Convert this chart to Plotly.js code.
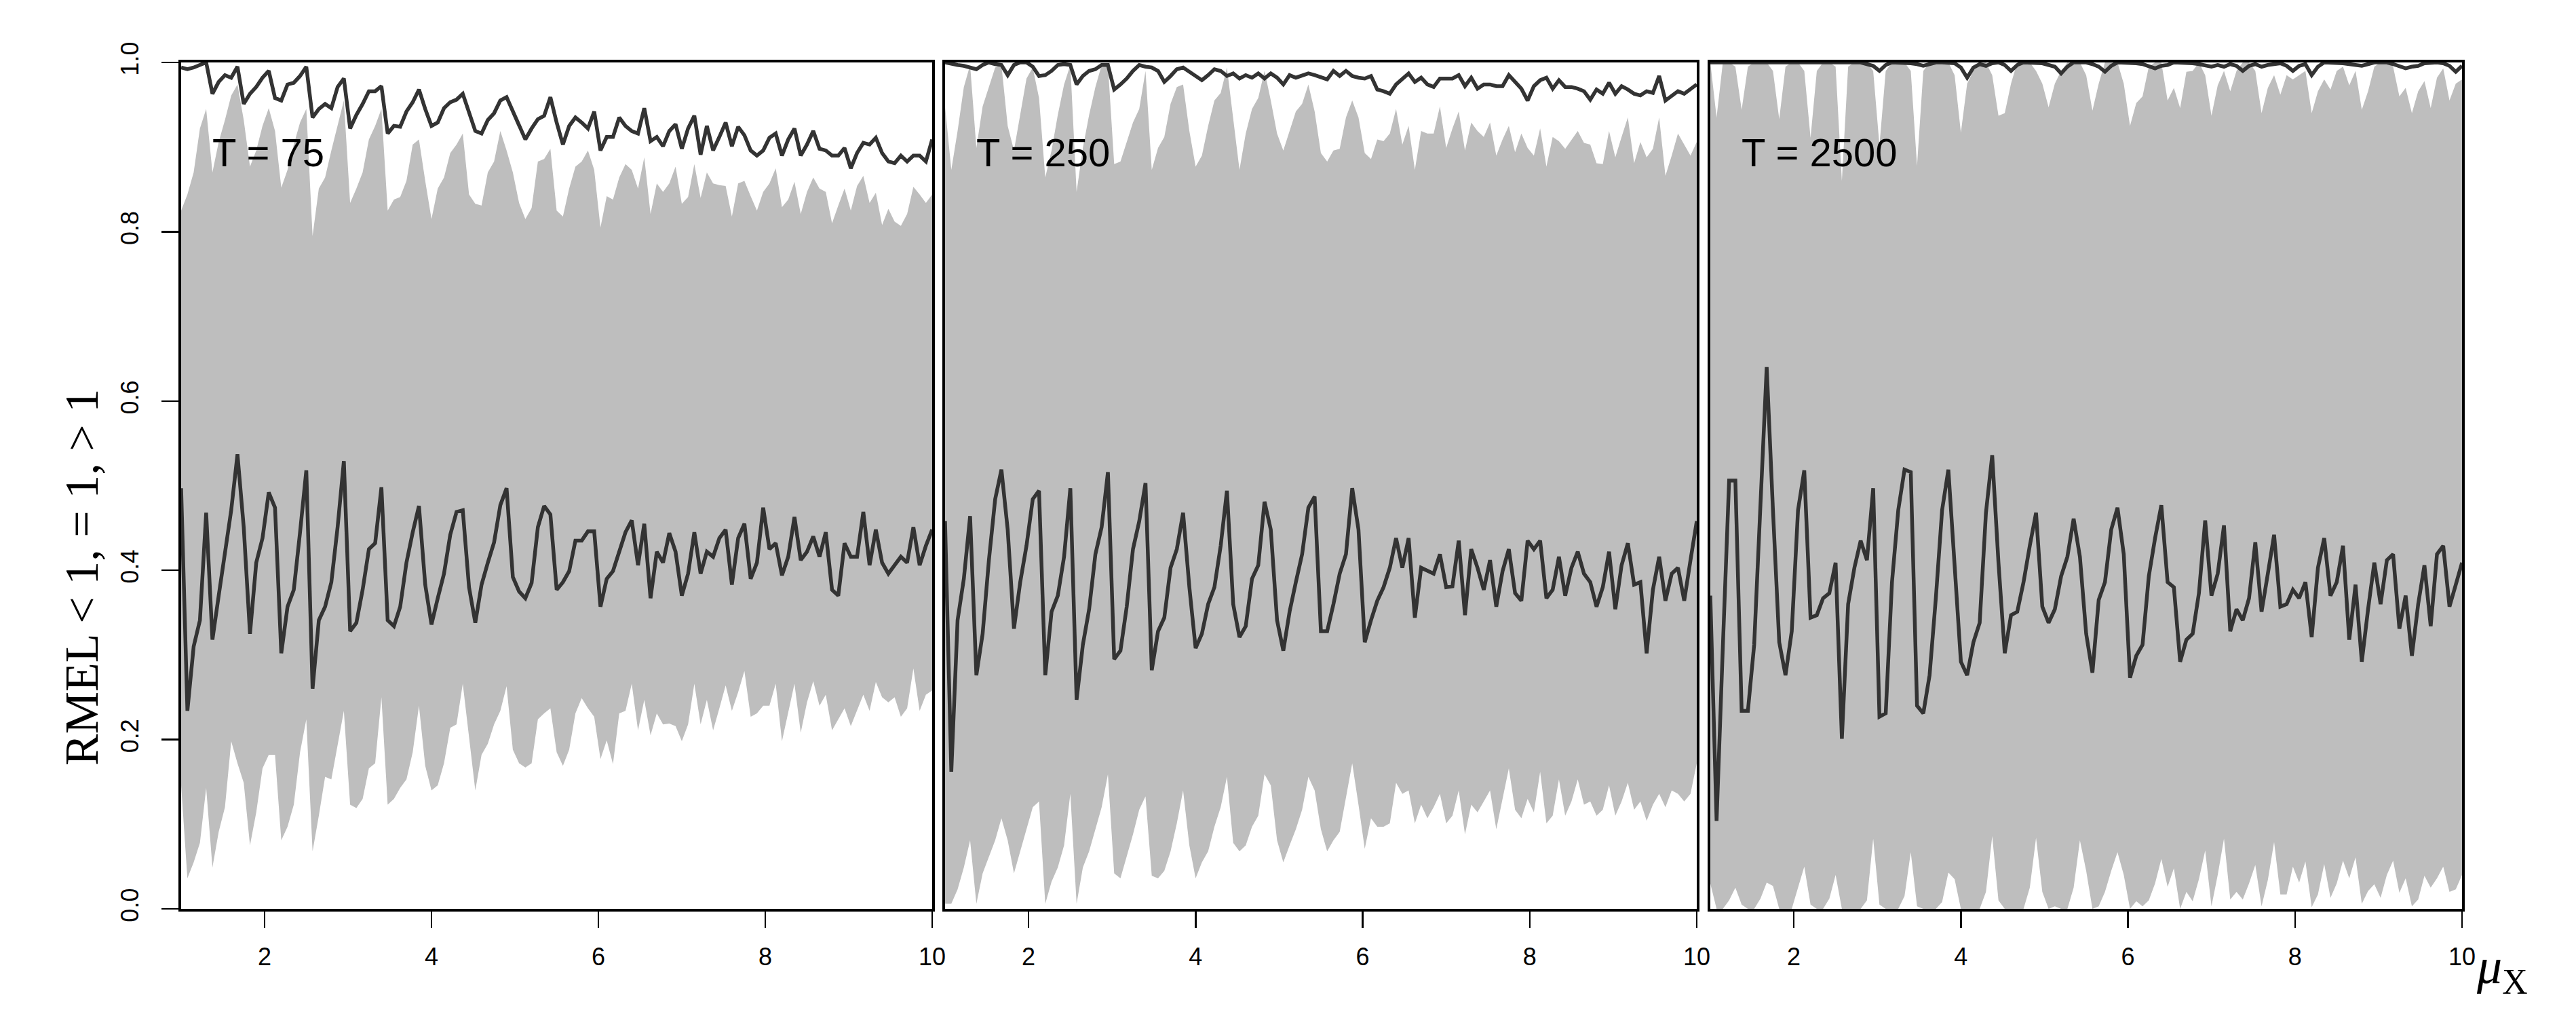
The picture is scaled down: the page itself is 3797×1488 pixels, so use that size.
<!DOCTYPE html>
<html>
<head>
<meta charset="utf-8">
<script src="https://cdn.plot.ly/plotly-3.0.1.min.js"></script>
<style>html,body{margin:0;padding:0;background:#fff}</style>
</head>
<body>
<div id="chart" style="width:3797px;height:1488px"></div>
<script>
// mu_X grid: 121 points from 1 to 10
const muX = Array.from({length: 121}, (_, i) => +(1 + 0.075 * i).toFixed(3));

const panelLabels = ['T = 75', 'T = 250', 'T = 2500'];
const xTicks = [2, 4, 6, 8, 10];
const yTicks = [0, 0.2, 0.4, 0.6, 0.8, 1.0];
const yTickText = ['0.0', '0.2', '0.4', '0.6', '0.8', '1.0'];

// ---- T = 75 ----
const p1Mid = [
  0.497, 0.234, 0.310, 0.341, 0.468, 0.318, 0.370, 0.419, 0.471, 0.537,
  0.451, 0.325, 0.409, 0.438, 0.492, 0.474, 0.302, 0.357, 0.377, 0.445,
  0.518, 0.260, 0.341, 0.357, 0.386, 0.451, 0.529, 0.328, 0.338, 0.377,
  0.425, 0.432, 0.498, 0.341, 0.334, 0.357, 0.409, 0.445, 0.476, 0.383,
  0.336, 0.367, 0.396, 0.442, 0.469, 0.471, 0.380, 0.338, 0.383, 0.409,
  0.433, 0.477, 0.497, 0.392, 0.375, 0.367, 0.385, 0.451, 0.476, 0.466,
  0.377, 0.386, 0.399, 0.435, 0.435, 0.446, 0.446, 0.357, 0.390, 0.399,
  0.422, 0.445, 0.459, 0.406, 0.455, 0.367, 0.422, 0.409, 0.444, 0.422,
  0.370, 0.396, 0.445, 0.396, 0.422, 0.416, 0.438, 0.448, 0.383, 0.438,
  0.455, 0.390, 0.409, 0.474, 0.425, 0.432, 0.394, 0.416, 0.463, 0.412,
  0.422, 0.440, 0.416, 0.445, 0.377, 0.370, 0.432, 0.416, 0.416, 0.469,
  0.406, 0.448, 0.409, 0.396, 0.406, 0.416, 0.409, 0.451, 0.406, 0.429,
  0.448
];
const p1Top = [
  0.994, 0.992, 0.994, 0.997, 1.000, 0.963, 0.977, 0.985, 0.982, 0.995,
  0.951, 0.963, 0.971, 0.982, 0.990, 0.958, 0.955, 0.974, 0.976, 0.984,
  0.995, 0.935, 0.945, 0.951, 0.946, 0.971, 0.981, 0.922, 0.938, 0.951,
  0.966, 0.966, 0.972, 0.916, 0.925, 0.924, 0.942, 0.953, 0.968, 0.945,
  0.925, 0.929, 0.946, 0.953, 0.956, 0.963, 0.942, 0.919, 0.916, 0.932,
  0.940, 0.955, 0.959, 0.942, 0.925, 0.909, 0.922, 0.933, 0.937, 0.959,
  0.929, 0.903, 0.925, 0.935, 0.929, 0.922, 0.942, 0.896, 0.912, 0.912,
  0.935, 0.925, 0.919, 0.916, 0.946, 0.907, 0.912, 0.901, 0.919, 0.927,
  0.898, 0.922, 0.937, 0.891, 0.925, 0.896, 0.912, 0.929, 0.901, 0.924,
  0.914, 0.896, 0.890, 0.896, 0.911, 0.916, 0.890, 0.909, 0.922, 0.890,
  0.903, 0.919, 0.898, 0.896, 0.890, 0.890, 0.899, 0.875, 0.893, 0.905,
  0.903, 0.911, 0.893, 0.883, 0.881, 0.890, 0.883, 0.890, 0.890, 0.883,
  0.909
];
const p1Up = [
  0.825, 0.844, 0.870, 0.922, 0.945, 0.870, 0.906, 0.932, 0.961, 0.974,
  0.932, 0.877, 0.896, 0.925, 0.946, 0.919, 0.852, 0.873, 0.903, 0.929,
  0.945, 0.795, 0.851, 0.864, 0.896, 0.925, 0.955, 0.834, 0.851, 0.870,
  0.909, 0.925, 0.945, 0.825, 0.838, 0.841, 0.860, 0.903, 0.909, 0.860,
  0.815, 0.851, 0.864, 0.893, 0.903, 0.916, 0.844, 0.833, 0.831, 0.870,
  0.883, 0.919, 0.896, 0.870, 0.834, 0.815, 0.828, 0.883, 0.886, 0.898,
  0.825, 0.818, 0.851, 0.877, 0.883, 0.896, 0.873, 0.805, 0.842, 0.838,
  0.864, 0.880, 0.873, 0.851, 0.888, 0.821, 0.857, 0.847, 0.857, 0.877,
  0.833, 0.841, 0.880, 0.840, 0.870, 0.857, 0.855, 0.854, 0.818, 0.857,
  0.860, 0.842, 0.825, 0.847, 0.857, 0.875, 0.829, 0.838, 0.859, 0.821,
  0.847, 0.864, 0.851, 0.847, 0.810, 0.831, 0.851, 0.825, 0.854, 0.866,
  0.834, 0.846, 0.808, 0.827, 0.812, 0.807, 0.821, 0.853, 0.844, 0.834,
  0.844
];
const p1Lo = [
  0.146, 0.036, 0.055, 0.078, 0.143, 0.049, 0.091, 0.120, 0.198, 0.172,
  0.149, 0.075, 0.114, 0.166, 0.182, 0.182, 0.081, 0.097, 0.123, 0.185,
  0.224, 0.068, 0.110, 0.156, 0.153, 0.195, 0.234, 0.123, 0.119, 0.130,
  0.166, 0.172, 0.250, 0.123, 0.130, 0.143, 0.153, 0.185, 0.240, 0.169,
  0.140, 0.146, 0.172, 0.214, 0.218, 0.266, 0.201, 0.140, 0.182, 0.195,
  0.218, 0.234, 0.263, 0.188, 0.172, 0.167, 0.172, 0.224, 0.231, 0.237,
  0.185, 0.169, 0.188, 0.231, 0.249, 0.237, 0.227, 0.177, 0.199, 0.171,
  0.231, 0.234, 0.266, 0.211, 0.247, 0.205, 0.231, 0.218, 0.219, 0.216,
  0.198, 0.218, 0.266, 0.218, 0.247, 0.211, 0.237, 0.264, 0.234, 0.256,
  0.281, 0.227, 0.231, 0.240, 0.240, 0.266, 0.198, 0.231, 0.266, 0.208,
  0.244, 0.269, 0.240, 0.253, 0.211, 0.224, 0.237, 0.216, 0.234, 0.253,
  0.234, 0.268, 0.250, 0.244, 0.250, 0.227, 0.237, 0.284, 0.234, 0.253,
  0.258
];

// ---- T = 250 ----
const p2Mid = [
  0.458, 0.162, 0.341, 0.390, 0.464, 0.276, 0.325, 0.412, 0.484, 0.519,
  0.448, 0.331, 0.386, 0.429, 0.484, 0.494, 0.276, 0.351, 0.370, 0.416,
  0.497, 0.247, 0.312, 0.354, 0.419, 0.451, 0.516, 0.295, 0.305, 0.357,
  0.425, 0.458, 0.503, 0.282, 0.328, 0.344, 0.403, 0.425, 0.468, 0.380,
  0.308, 0.325, 0.360, 0.380, 0.429, 0.494, 0.360, 0.321, 0.334, 0.390,
  0.406, 0.481, 0.448, 0.341, 0.305, 0.351, 0.386, 0.419, 0.474, 0.487,
  0.328, 0.328, 0.360, 0.396, 0.419, 0.497, 0.448, 0.315, 0.341, 0.364,
  0.380, 0.403, 0.438, 0.403, 0.438, 0.344, 0.403, 0.399, 0.396, 0.419,
  0.380, 0.381, 0.435, 0.347, 0.425, 0.403, 0.377, 0.412, 0.357, 0.399,
  0.425, 0.373, 0.364, 0.435, 0.425, 0.435, 0.367, 0.377, 0.416, 0.370,
  0.403, 0.422, 0.396, 0.386, 0.357, 0.380, 0.422, 0.354, 0.406, 0.432,
  0.383, 0.386, 0.302, 0.377, 0.416, 0.364, 0.396, 0.403, 0.364, 0.412,
  0.458
];
const p2Top = [
  1.000, 0.998, 0.997, 0.996, 0.994, 0.992, 0.997, 1.000, 0.998, 0.997,
  0.985, 0.997, 1.000, 1.000, 0.995, 0.984, 0.985, 0.990, 0.997, 0.998,
  0.997, 0.974, 0.984, 0.990, 0.992, 0.997, 0.997, 0.968, 0.974, 0.981,
  0.990, 0.997, 0.995, 0.994, 0.990, 0.977, 0.984, 0.992, 0.994, 0.989,
  0.984, 0.979, 0.985, 0.992, 0.990, 0.984, 0.987, 0.981, 0.985, 0.982,
  0.987, 0.981, 0.987, 0.982, 0.974, 0.985, 0.982, 0.984, 0.987, 0.985,
  0.982, 0.980, 0.990, 0.984, 0.990, 0.984, 0.982, 0.981, 0.984, 0.968,
  0.966, 0.963, 0.974, 0.981, 0.987, 0.977, 0.982, 0.974, 0.971, 0.981,
  0.981, 0.981, 0.985, 0.972, 0.982, 0.969, 0.974, 0.974, 0.972, 0.972,
  0.985, 0.977, 0.969, 0.955, 0.972, 0.979, 0.982, 0.969, 0.979, 0.971,
  0.971, 0.969, 0.966, 0.956, 0.968, 0.963, 0.976, 0.963, 0.972, 0.968,
  0.963, 0.961, 0.966, 0.964, 0.984, 0.955, 0.961, 0.966, 0.963, 0.968,
  0.974
];
const p2Up = [
  0.948, 0.873, 0.919, 0.971, 0.997, 0.899, 0.948, 0.971, 0.994, 0.997,
  0.925, 0.896, 0.938, 0.981, 0.994, 0.958, 0.864, 0.896, 0.938, 0.974,
  0.997, 0.847, 0.899, 0.938, 0.971, 0.997, 0.997, 0.880, 0.883, 0.906,
  0.929, 0.945, 0.990, 0.873, 0.899, 0.912, 0.951, 0.971, 0.974, 0.919,
  0.877, 0.890, 0.925, 0.955, 0.964, 0.994, 0.932, 0.873, 0.916, 0.945,
  0.958, 0.990, 0.955, 0.916, 0.896, 0.919, 0.942, 0.951, 0.974, 0.942,
  0.893, 0.883, 0.896, 0.898, 0.935, 0.955, 0.935, 0.893, 0.886, 0.909,
  0.907, 0.916, 0.945, 0.903, 0.925, 0.873, 0.919, 0.916, 0.916, 0.948,
  0.899, 0.922, 0.942, 0.896, 0.929, 0.919, 0.912, 0.929, 0.890, 0.909,
  0.925, 0.894, 0.916, 0.899, 0.890, 0.922, 0.877, 0.912, 0.907, 0.898,
  0.909, 0.919, 0.905, 0.903, 0.881, 0.880, 0.919, 0.888, 0.912, 0.935,
  0.881, 0.906, 0.888, 0.898, 0.935, 0.866, 0.890, 0.916, 0.903, 0.890,
  0.906
];
const p2Lo = [
  0.006, 0.006, 0.023, 0.049, 0.081, 0.006, 0.042, 0.062, 0.081, 0.107,
  0.081, 0.042, 0.068, 0.094, 0.120, 0.127, 0.006, 0.032, 0.049, 0.075,
  0.136, 0.006, 0.049, 0.068, 0.094, 0.120, 0.159, 0.042, 0.036, 0.062,
  0.088, 0.117, 0.133, 0.039, 0.036, 0.045, 0.068, 0.101, 0.140, 0.075,
  0.036, 0.055, 0.068, 0.097, 0.120, 0.156, 0.078, 0.068, 0.075, 0.097,
  0.110, 0.159, 0.146, 0.081, 0.055, 0.075, 0.094, 0.117, 0.156, 0.140,
  0.094, 0.068, 0.081, 0.091, 0.133, 0.172, 0.123, 0.071, 0.107, 0.097,
  0.097, 0.101, 0.149, 0.136, 0.140, 0.101, 0.123, 0.107, 0.120, 0.136,
  0.101, 0.110, 0.140, 0.088, 0.123, 0.114, 0.127, 0.140, 0.094, 0.130,
  0.166, 0.117, 0.107, 0.130, 0.114, 0.162, 0.101, 0.110, 0.153, 0.110,
  0.127, 0.153, 0.123, 0.127, 0.110, 0.117, 0.146, 0.110, 0.127, 0.149,
  0.117, 0.127, 0.104, 0.123, 0.136, 0.120, 0.140, 0.136, 0.127, 0.136,
  0.172
];

// ---- T = 2500 ----
const p3Mid = [
  0.370, 0.104, 0.310, 0.506, 0.506, 0.234, 0.234, 0.312, 0.477, 0.640,
  0.471, 0.315, 0.276, 0.328, 0.471, 0.518, 0.344, 0.347, 0.367, 0.373,
  0.409, 0.201, 0.360, 0.403, 0.435, 0.412, 0.497, 0.227, 0.231, 0.386,
  0.471, 0.519, 0.516, 0.240, 0.231, 0.276, 0.367, 0.471, 0.519, 0.412,
  0.292, 0.276, 0.315, 0.338, 0.468, 0.536, 0.409, 0.302, 0.347, 0.351,
  0.386, 0.429, 0.468, 0.357, 0.338, 0.354, 0.393, 0.416, 0.461, 0.416,
  0.325, 0.279, 0.365, 0.386, 0.448, 0.474, 0.419, 0.273, 0.299, 0.312,
  0.393, 0.438, 0.477, 0.386, 0.380, 0.292, 0.318, 0.325, 0.373, 0.459,
  0.370, 0.396, 0.453, 0.328, 0.354, 0.341, 0.367, 0.433, 0.351, 0.396,
  0.442, 0.357, 0.360, 0.377, 0.367, 0.386, 0.321, 0.403, 0.438, 0.370,
  0.386, 0.429, 0.318, 0.383, 0.292, 0.354, 0.409, 0.360, 0.412, 0.419,
  0.331, 0.370, 0.299, 0.360, 0.406, 0.334, 0.419, 0.429, 0.357, 0.383,
  0.409
];
const p3Top = [
  1.000, 1.000, 0.999, 1.000, 1.000, 0.999, 1.000, 1.000, 1.000, 1.000,
  1.000, 0.999, 1.000, 1.000, 1.000, 0.999, 1.000, 1.000, 1.000, 1.000,
  1.000, 0.999, 1.000, 1.000, 1.000, 0.998, 0.996, 0.990, 0.997, 1.000,
  1.000, 1.000, 0.999, 0.998, 0.996, 0.998, 1.000, 1.000, 1.000, 0.999,
  0.994, 0.982, 0.994, 0.998, 0.996, 0.999, 1.000, 0.997, 0.990, 0.997,
  1.000, 1.000, 1.000, 0.999, 0.997, 0.995, 0.987, 0.995, 1.000, 1.000,
  1.000, 0.998, 0.995, 0.989, 0.996, 1.000, 1.000, 1.000, 0.999, 0.998,
  0.996, 0.993, 0.996, 0.997, 1.000, 1.000, 1.000, 0.999, 0.998, 0.997,
  0.995, 0.997, 0.995, 0.998, 0.996, 0.990, 0.996, 0.998, 0.995, 0.997,
  0.998, 0.999, 0.996, 0.990, 0.996, 0.998, 0.985, 0.995, 1.000, 1.000,
  1.000, 0.999, 0.998, 0.997, 0.996, 0.998, 1.000, 1.000, 1.000, 0.998,
  0.995, 0.993, 0.995, 0.996, 0.999, 1.000, 1.000, 0.999, 0.996, 0.989,
  0.996
];
const p3Up = [
  1.000, 0.935, 1.000, 1.000, 0.995, 0.944, 0.995, 1.000, 1.000, 1.000,
  0.990, 0.933, 0.995, 1.000, 1.000, 0.990, 0.911, 0.990, 1.000, 1.000,
  0.995, 0.860, 0.995, 1.000, 1.000, 1.000, 0.990, 0.902, 0.990, 1.000,
  1.000, 1.000, 0.990, 0.878, 0.990, 1.000, 1.000, 1.000, 1.000, 0.985,
  0.917, 0.975, 0.990, 1.000, 1.000, 0.985, 0.937, 0.940, 0.975, 1.000,
  1.000, 1.000, 0.990, 0.975, 0.947, 0.975, 0.990, 1.000, 1.000, 1.000,
  0.985, 0.943, 0.975, 1.000, 1.000, 1.000, 0.975, 0.925, 0.952, 0.960,
  0.995, 1.000, 1.000, 0.955, 0.970, 0.946, 0.989, 0.990, 1.000, 0.985,
  0.937, 0.973, 0.990, 0.966, 0.990, 1.000, 1.000, 0.990, 0.940, 0.970,
  0.985, 0.962, 0.985, 0.980, 0.985, 0.990, 0.940, 0.966, 0.980, 0.968,
  0.990, 0.995, 0.973, 0.990, 0.944, 0.966, 0.995, 1.000, 1.000, 0.995,
  0.960, 0.970, 0.940, 0.966, 0.978, 0.946, 0.982, 0.993, 0.955, 0.975,
  0.980
];
const p3Lo = [
  0.030, 0.000, 0.000, 0.010, 0.025, 0.005, 0.000, 0.000, 0.012, 0.031,
  0.027, 0.000, 0.000, 0.000, 0.025, 0.050, 0.005, 0.000, 0.000, 0.012,
  0.040, 0.000, 0.000, 0.000, 0.000, 0.010, 0.083, 0.005, 0.000, 0.000,
  0.000, 0.015, 0.067, 0.003, 0.000, 0.000, 0.000, 0.008, 0.043, 0.035,
  0.000, 0.000, 0.000, 0.000, 0.020, 0.086, 0.010, 0.000, 0.000, 0.000,
  0.000, 0.025, 0.084, 0.020, 0.000, 0.003, 0.000, 0.000, 0.025, 0.081,
  0.045, 0.000, 0.003, 0.020, 0.045, 0.067, 0.040, 0.000, 0.009, 0.003,
  0.010, 0.030, 0.059, 0.026, 0.048, 0.000, 0.020, 0.009, 0.035, 0.069,
  0.003, 0.040, 0.083, 0.011, 0.020, 0.011, 0.030, 0.052, 0.003, 0.034,
  0.079, 0.017, 0.017, 0.050, 0.031, 0.056, 0.002, 0.017, 0.053, 0.013,
  0.030, 0.057, 0.036, 0.061, 0.006, 0.021, 0.029, 0.013, 0.040, 0.057,
  0.019, 0.036, 0.003, 0.011, 0.039, 0.025, 0.036, 0.050, 0.020, 0.023,
  0.040
];

const panels = [
  {lo: p1Lo, up: p1Up, top: p1Top, mid: p1Mid},
  {lo: p2Lo, up: p2Up, top: p2Top, mid: p2Mid},
  {lo: p3Lo, up: p3Up, top: p3Top, mid: p3Mid}
];

const BAND = '#bebebe';
const LINE = '#333333';
const SANS = 'Liberation Sans, Arial, sans-serif';
const SERIF = 'Liberation Serif, Times New Roman, serif';

// pixel layout of the three frames (page is 3797 x 1488)
const W = 3797, H = 1488;
const xDomains = [[267, 1374], [1393, 2501], [2521, 3629]].map(d => [d[0] / W, d[1] / W]);
const yDomain = [1 - 1339 / H, 1 - 92 / H];

const traces = [];
panels.forEach((p, k) => {
  const xa = k === 0 ? 'x' : 'x' + (k + 1);
  const ya = k === 0 ? 'y' : 'y' + (k + 1);
  // grey band: lower edge, then upper edge filled down to it
  traces.push({x: muX, y: p.lo, xaxis: xa, yaxis: ya, type: 'scatter', mode: 'lines',
    line: {width: 0, color: BAND}, hoverinfo: 'skip', showlegend: false});
  traces.push({x: muX, y: p.up, xaxis: xa, yaxis: ya, type: 'scatter', mode: 'lines',
    fill: 'tonexty', fillcolor: BAND, line: {width: 0, color: BAND}, hoverinfo: 'skip', showlegend: false});
  traces.push({x: muX, y: p.top, xaxis: xa, yaxis: ya, type: 'scatter', mode: 'lines',
    line: {width: 5.5, color: LINE}, showlegend: false});
  traces.push({x: muX, y: p.mid, xaxis: xa, yaxis: ya, type: 'scatter', mode: 'lines',
    line: {width: 5.5, color: LINE}, showlegend: false});
});

const layout = {
  width: W, height: H,
  margin: {l: 0, r: 0, t: 0, b: 0},
  paper_bgcolor: '#fff', plot_bgcolor: '#fff',
  showlegend: false,
  annotations: []
};

xDomains.forEach((dom, k) => {
  const sfx = k === 0 ? '' : String(k + 1);
  layout['xaxis' + sfx] = {
    domain: dom, range: [1, 10], anchor: 'y' + sfx,
    tickvals: xTicks, ticks: 'outside', ticklen: 24, tickwidth: 2.5, tickcolor: '#000',
    ticklabelstandoff: 12,
    tickfont: {family: SANS, size: 36, color: '#000'},
    showline: true, linecolor: '#000', linewidth: 4, mirror: true,
    showgrid: false, zeroline: false
  };
  layout['yaxis' + sfx] = {
    domain: yDomain, range: [0, 1], anchor: 'x' + sfx,
    tickvals: yTicks, ticktext: yTickText,
    ticks: k === 0 ? 'outside' : '', ticklen: 25, tickwidth: 2.5, tickcolor: '#000',
    showticklabels: k === 0, tickangle: -90, ticklabelstandoff: 20,
    tickfont: {family: SANS, size: 36, color: '#000'},
    showline: true, linecolor: '#000', linewidth: 4, mirror: true,
    showgrid: false, zeroline: false
  };
  layout.annotations.push({
    xref: 'x' + sfx, yref: 'y' + sfx, x: 1.36, y: 0.894,
    xanchor: 'left', yanchor: 'middle', showarrow: false,
    text: panelLabels[k], font: {family: SANS, size: 58, color: '#000'}
  });
});

// y axis title
layout.annotations.push({
  xref: 'paper', yref: 'paper', x: 120 / W, y: 1 - 851 / H,
  xanchor: 'center', yanchor: 'middle', textangle: -90, showarrow: false,
  text: 'RMEL < 1, = 1, > 1', font: {family: SERIF, size: 70, color: '#000'}
});
// x axis label
layout.annotations.push({
  xref: 'paper', yref: 'paper', x: 3688 / W, y: 1 - 1428 / H,
  xanchor: 'center', yanchor: 'middle', showarrow: false,
  text: '<i>μ</i><sub>X</sub>', font: {family: SERIF, size: 74, color: '#000'}
});

Plotly.newPlot('chart', traces, layout, {displayModeBar: false, staticPlot: true});
</script>
</body>
</html>
